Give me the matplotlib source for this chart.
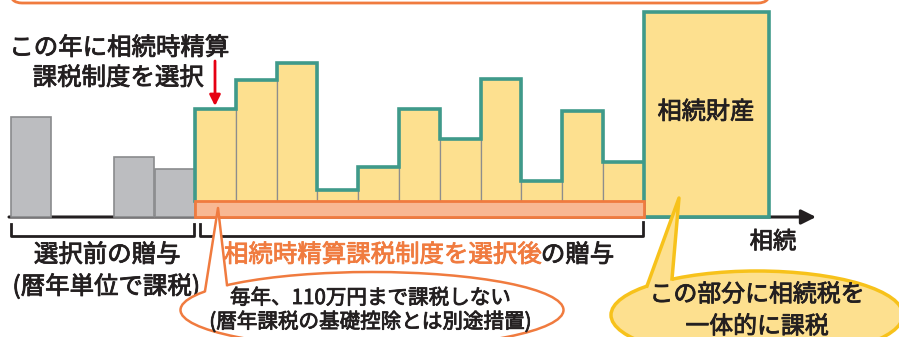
import numpy as np
import matplotlib.pyplot as plt
import matplotlib.patheffects as pe
from matplotlib.patches import Rectangle, Ellipse, Polygon, FancyBboxPatch

plt.rcParams['font.family'] = ['Noto Sans CJK JP', 'DejaVu Sans']

# gifts before choosing the system (calendar-year taxation)
pre_gifts = [100, 60, 48]
# gifts after choosing 相続時精算課税制度, one per year
post_gifts = [108, 137, 154, 27, 50, 108, 78, 138, 36, 106, 55]
estate = 205

TEXT = '#231f20'
TEAL = '#3f9a8a'
YELLOW = '#fde08f'
ORANGE = '#f07b3f'
GOLD = '#f7c21b'

BASE = 217          # baseline (pixel row)
W = 40.8            # width of one year
X0 = 195            # first year after choosing


def heavy(color):
    # slightly heavier than regular, like the original's gothic
    return [pe.withStroke(linewidth=0.6, foreground=color)]


fig = plt.figure(figsize=(8.99, 3.37), dpi=100)
ax = fig.add_axes([0, 0, 1, 1])
ax.set_xlim(0, 899)
ax.set_ylim(337, 0)
ax.axis('off')

# top frame (only lower edge visible)
ax.add_patch(FancyBboxPatch((10, -40), 760, 43, boxstyle='round,pad=0,rounding_size=12',
                            fc='white', ec=ORANGE, lw=2))

# time axis
ax.annotate('', xy=(816, BASE), xytext=(9, BASE),
            arrowprops=dict(arrowstyle='-|>', lw=2.2, color=TEXT, mutation_scale=22,
                            shrinkA=0, shrinkB=0), zorder=1)

# gray bars
pre_x = [11, 114, 155]
ax.bar(pre_x, pre_gifts, width=40, bottom=[BASE - h for h in pre_gifts], align='edge',
       color='#bcbdc0', edgecolor='#8a8b8d', lw=1.2, zorder=2)

# yellow bars
xs = X0 + W * np.arange(len(post_gifts))
h = np.array(post_gifts)
ax.bar(xs, h, width=W, bottom=BASE - h, align='edge', color=YELLOW,
       edgecolor='#8d8d8d', lw=0.9, zorder=2)

# teal outline along the tops
edges = np.append(xs, xs[-1] + W)
sx = np.repeat(edges, 2)
sy = np.concatenate([[BASE - 16], np.repeat(BASE - h, 2), [BASE - h[-1]]])
ax.plot(sx, sy, color=TEAL, lw=2.6, zorder=3, solid_joinstyle='miter')

# orange band under yellow bars
ax.add_patch(Rectangle((X0, BASE - 16), edges[-1] - X0, 16, fc='#f8b893', ec=ORANGE,
                       lw=2, zorder=4))

# inherited estate
ax.add_patch(Rectangle((edges[-1], BASE - estate), 125, estate, fc=YELLOW, ec=TEAL,
                       lw=2.6, zorder=3))
ax.text(edges[-1] + 62, 112, '相続財産', ha='center', va='center', fontsize=17.4,
        color=TEXT, zorder=5, path_effects=heavy(TEXT))

# caption and red arrow
ax.text(119, 48, 'この年に相続時精算', ha='center', va='center', fontsize=17.6,
        color=TEXT, path_effects=heavy(TEXT))
ax.text(118, 78, '課税制度を選択', ha='center', va='center', fontsize=17.6,
        color=TEXT, path_effects=heavy(TEXT))
ax.annotate('', xy=(215, 106), xytext=(215, 61),
            arrowprops=dict(arrowstyle='-|>', lw=2, color='#e60012', mutation_scale=16,
                            shrinkA=0, shrinkB=0), zorder=5)

# brackets
ax.plot([11, 11, 194, 194], [224, 236, 236, 224], color=TEXT, lw=2, zorder=2)
ax.plot([200, 200, 643, 643], [224, 236, 236, 222], color=TEXT, lw=2, zorder=2)

ax.text(107, 255, '選択前の贈与', ha='center', va='center', fontsize=17.6,
        color=TEXT, path_effects=heavy(TEXT))
ax.text(106, 287, '(暦年単位で課税)', ha='center', va='center', fontsize=17.6,
        color=TEXT, path_effects=heavy(TEXT))
t1 = ax.text(224, 255, '相続時精算課税制度を選択後', ha='left', va='center',
             fontsize=17.6, color=ORANGE, path_effects=heavy(ORANGE))
ax.annotate('の贈与', xy=(1, 0.5), xycoords=t1, ha='left', va='center',
            fontsize=17.6, color=TEXT, xytext=(0, 0), textcoords='offset points',
            path_effects=heavy(TEXT))
ax.text(773, 242, '相続', ha='center', va='center', fontsize=16.8, color=TEXT,
        path_effects=heavy(TEXT))

# orange bubble
ax.add_patch(Ellipse((372, 310), 383, 76, fc='white', ec=ORANGE, lw=1.8, zorder=6))
ax.add_patch(Polygon([(205, 294), (218, 208), (227, 288)], closed=True, fc='white',
                     ec='none', zorder=7))
ax.plot([205, 218, 227], [291, 208, 285], color=ORANGE, lw=1.8, zorder=7)
ax.text(370, 298, '毎年、110万円まで課税しない', ha='center', va='center', fontsize=14.8,
        color=TEXT, zorder=8, path_effects=heavy(TEXT))
ax.text(370, 322, '(暦年課税の基礎控除とは別途措置)', ha='center', va='center',
        fontsize=14.8, color=TEXT, zorder=8, path_effects=heavy(TEXT))

# yellow bubble
ax.add_patch(Ellipse((757, 315), 292, 88, fc=YELLOW, ec=GOLD, lw=2.5, zorder=6))
ax.add_patch(Polygon([(647, 290), (679, 198), (672, 283)], closed=True, fc=YELLOW,
                     ec='none', zorder=7))
ax.plot([647, 679, 672], [286, 198, 279], color=GOLD, lw=2.5, zorder=7)
ax.text(757, 295, 'この部分に相続税を', ha='center', va='center', fontsize=17.2,
        color=TEXT, zorder=8, path_effects=heavy(TEXT))
ax.text(757, 327, '一体的に課税', ha='center', va='center', fontsize=17.2,
        color=TEXT, zorder=8, path_effects=heavy(TEXT))

fig.savefig('out.png', dpi=100)
